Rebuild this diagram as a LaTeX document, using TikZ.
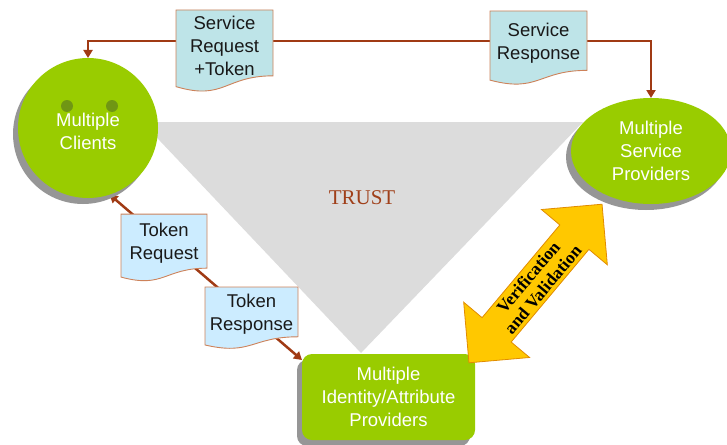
\documentclass[tikz,border=0pt]{standalone}
\usepackage{fontspec}
\setmainfont{Liberation Sans}
\newfontfamily\seriffam{Liberation Serif}
\usetikzlibrary{shapes.geometric,shapes.arrows,shadows,arrows.meta,calc}
\definecolor{grn}{RGB}{153,204,0}
\definecolor{dotgrn}{RGB}{112,150,20}
\definecolor{shd}{RGB}{150,150,150}
\definecolor{conncol}{RGB}{160,58,20}
\definecolor{docbd}{RGB}{205,130,90}
\definecolor{docA}{RGB}{190,228,232}
\definecolor{docB}{RGB}{204,236,255}
\definecolor{trig}{RGB}{220,220,220}
\definecolor{trustcol}{RGB}{160,64,26}
\definecolor{yel}{RGB}{255,200,0}
\definecolor{yelbd}{RGB}{225,140,0}
\pgfdeclarelayer{back}\pgfdeclarelayer{conn}\pgfdeclarelayer{docs}
\pgfsetlayers{back,conn,docs,main}
\newcommand\docbg[2]{\path[draw=docbd,fill=#2,line width=0.9pt] let \p1=(#1.north west), \p2=(#1.south east) in
  (\x1,\y1) -- (\x2,\y1) -- (\x2,{\y1+0.922*(\y2-\y1)})
  .. controls ({0.5*(\x1+\x2)},{\y1+0.922*(\y2-\y1)}) and ({0.5*(\x1+\x2)},{\y1+1.2736*(\y2-\y1)}) ..
  (\x1,{\y1+1.0736*(\y2-\y1)}) -- cycle;}
\begin{document}
\begin{tikzpicture}[x=1pt,y=-1pt,
  conn/.style={draw=conncol,line width=2.5pt,{Triangle[width=9pt,length=8pt]}-{Triangle[width=9pt,length=8pt]}},
  greenbox/.style={fill=grn,text=white,font=\fontsize{18.5}{23}\selectfont,align=center,inner sep=0pt,outer sep=0pt,
    drop shadow={shadow xshift=-5pt,shadow yshift=-6pt,fill=shd,opacity=1}},
  whitetext/.style={text=white,font=\fontsize{18.5}{23}\selectfont,align=center,inner sep=0pt},
  doc/.style={inner sep=0pt,outer sep=0pt,align=center,font=\fontsize{18.5}{23}\selectfont,text=black!90}]
\useasboundingbox (0,0) rectangle (727,444);
\begin{pgfonlayer}{back}
\fill[trig] (142,122) -- (583,122) -- (361,353) -- cycle;
\end{pgfonlayer}
% clients
\node[greenbox,circle,minimum size=140pt] (cl) at (88,128) {};
\fill[dotgrn] (67,106) circle (6);
\fill[dotgrn] (112,106) circle (6);
\node[whitetext] (cltext) at (88,131) {Multiple\\Clients};
% service providers
\node[greenbox,ellipse,minimum width=160pt,minimum height=106pt] (sp) at (651,151) {Multiple\\Service\\Providers};
% identity providers
\node[greenbox,rounded corners=10pt,minimum width=173pt,minimum height=86pt] (idp) at (388.5,397) {Multiple\\Identity/Attribute\\Providers};
% trust
\node[font=\seriffam\fontsize{21}{24}\selectfont,text=trustcol] (trust) at (362,198) {TRUST};
% documents
\node[doc,minimum width=97pt,minimum height=71.4pt] (srt) at (224.5,45.7) {Service\\Request\\+Token};
\node[doc,minimum width=97pt,minimum height=64.4pt] (sr) at (538.5,43.2) {Service\\Response};
\node[doc,minimum width=86pt,minimum height=58.7pt] (treq) at (164,243.4) {Token\\Request};
\node[doc,minimum width=93pt,minimum height=54pt] (tres) at (251.5,314) {Token\\Response};
\begin{pgfonlayer}{docs}
\docbg{srt}{docA}
\docbg{sr}{docA}
\docbg{treq}{docB}
\docbg{tres}{docB}
\end{pgfonlayer}
% connectors
\coordinate (tl) at (88,41);
\coordinate (tr) at (651,41);
\begin{pgfonlayer}{conn}
\draw[conn] (cl.north) -- (tl) -- (tr) -- (sp.north);
\draw[conn] (cl.-72) -- ($(idp.north west)!0.07!(idp.south west)$);
\end{pgfonlayer}
% verification arrow
\node[double arrow,draw=yelbd,fill=yel,line width=0.8pt,minimum height=207pt,minimum width=86pt,
  double arrow head extend=20.5pt,inner sep=0pt,rotate=50,
  font=\seriffam\bfseries\fontsize{17.5}{19}\selectfont,align=center] (vv) at (535.5,283.5) {Verification\\and Validation};
\end{tikzpicture}
\end{document}
